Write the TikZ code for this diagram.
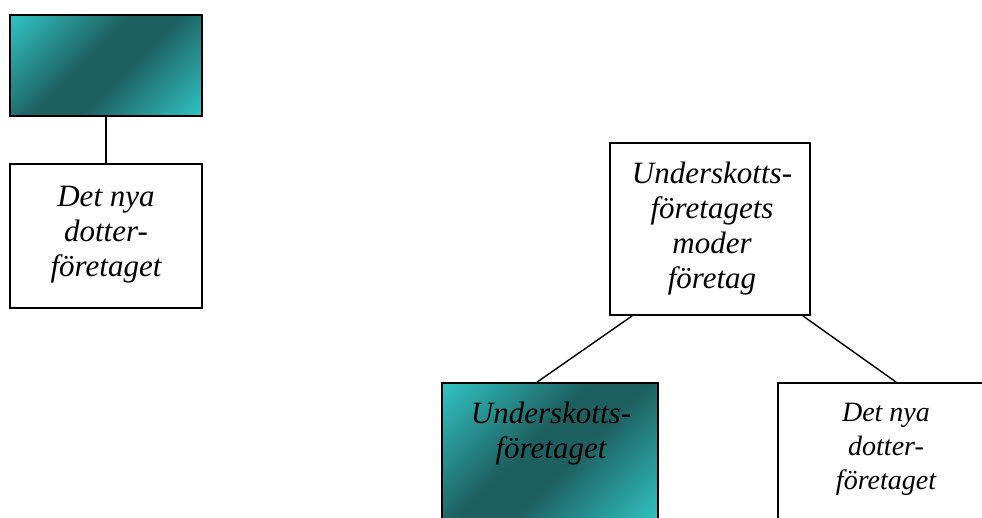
\documentclass[tikz,border=0pt]{standalone}
\usepackage{fontspec}
\setmainfont{Liberation Serif}
\usepackage{tikz}
\usetikzlibrary{calc,positioning}
\definecolor{tealLight}{RGB}{51,204,204}
\definecolor{tealDark}{RGB}{30,96,96}
\pgfdeclareverticalshading{tealdiag}{100bp}{color(0bp)=(tealLight); color(12bp)=(tealLight); color(44bp)=(tealDark); color(56bp)=(tealDark); color(88bp)=(tealLight); color(100bp)=(tealLight)}

\begin{document}
\begin{tikzpicture}[x=1pt,y=-1pt,
  box/.style={draw=black,line width=1.8pt,rectangle,inner sep=0pt},
  tealbox/.style={box,shading=tealdiag,shading angle=45},
  boxtext/.style={inner sep=0pt,align=center,anchor=north,font=\itshape\fontsize{31}{35}\selectfont},
  link/.style={line width=1.4pt}]
\useasboundingbox (0,0) rectangle (982,518);
\clip (0,0) rectangle (982,518);
\node[tealbox,minimum width=192pt,minimum height=101pt] (tombox) at (106,65.5) {};
\node[box,minimum width=192pt,minimum height=144pt] (nyadotter) at (106,236) {};
\node[box,minimum width=200pt,minimum height=172pt] (moder) at (710,229) {};
\node[tealbox,minimum width=216pt,minimum height=139pt] (underskott) at (550,452.5) {};
\node[box,minimum width=222pt,minimum height=214pt] (dotter) at (889,490) {};

\node[boxtext] (nyadottertext) at (106,186) {Det nya\\dotter-\\företaget};
\node[boxtext] (modertext) at (712,162) {Underskotts-\\företagets\\moder\\företag};
\node[boxtext] (underskottext) at (551,402) {Underskotts-\\företaget};
\node[boxtext,font=\itshape\fontsize{28}{34}\selectfont] (dottertext) at (886,403) {Det nya\\dotter-\\företaget};

\draw[link] (tombox.south) -- (nyadotter.north);
\draw[link] ([xshift=23pt]moder.south west) -- ([xshift=96pt]underskott.north west);
\draw[link] ([xshift=-8pt]moder.south east) -- ([xshift=119pt]dotter.north west);
\end{tikzpicture}
\end{document}
